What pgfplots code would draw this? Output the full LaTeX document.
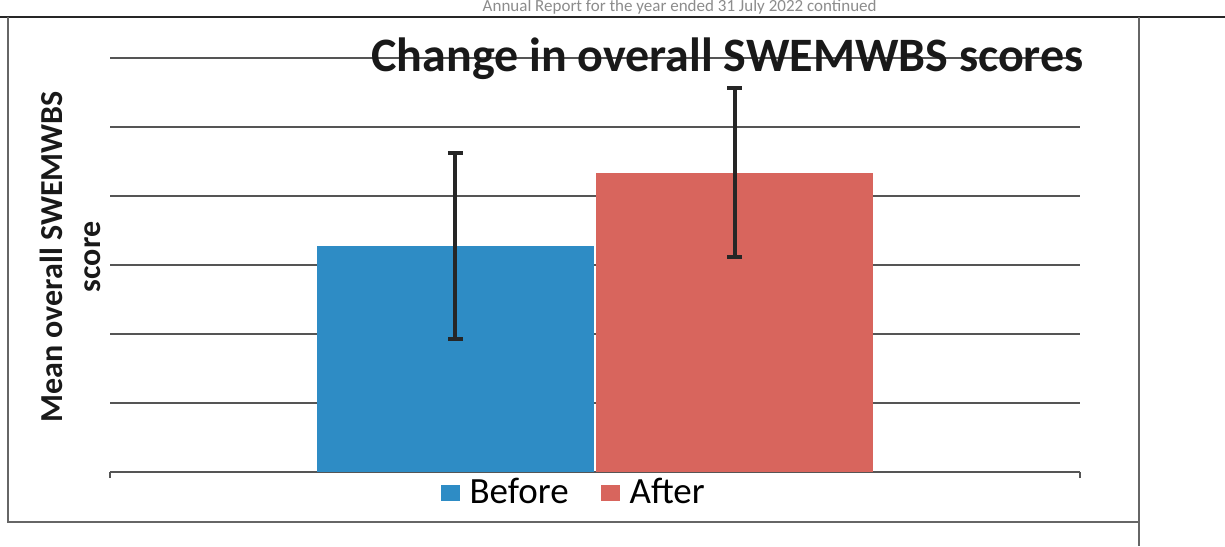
\documentclass[border=0pt]{standalone}
\usepackage{pgfplots}
\pgfplotsset{compat=1.18}
\usepackage{fontspec}
\setmainfont{Carlito}
\definecolor{barblue}{RGB}{46,140,197}
\definecolor{barred}{RGB}{216,101,93}
\definecolor{gridc}{RGB}{85,85,85}
\begin{document}
\begin{tikzpicture}
\useasboundingbox (0,0) rectangle (612.5pt,273pt);
\fill[white] (0,0) rectangle (612.5pt,273pt);
\node[anchor=base east, inner sep=0pt, text=black!45, font=\fontsize{8.5}{10}\selectfont] at (438.5pt,267.3pt) {Annual Report for the year ended 31 July 2022 continued};
\draw[line width=1.4pt, black!85] (0,264.5pt) -- (612.5pt,264.5pt);
\draw[line width=0.6pt, black!60] (4pt,264.5pt) -- (4pt,12pt) -- (569.5pt,12pt);
\draw[line width=0.6pt, black!60] (569.5pt,264.5pt) -- (569.5pt,0pt);
\begin{axis}[
  at={(55pt,37pt)}, anchor=south west,
  width=485pt, height=207pt, scale only axis,
  xmin=-1, xmax=1, ymin=0, ymax=30,
  axis x line=bottom, axis y line=left,
  x axis line style={-, gridc, line width=0.8pt},
  y axis line style={draw=none},
  ytick={0,5,...,30}, yticklabels={},
  ytick style={draw=none},
  ymajorgrids, grid style={gridc, line width=0.7pt},
  xtick={-1,1}, xticklabels={},
  xtick style={gridc, line width=0.8pt},
  tick align=outside, major tick length=3pt,
  clip=false,
  legend style={at={(0.479,-0.05)}, anchor=center, draw=none, fill=none,
    legend columns=2, font=\fontsize{18.5}{21}\selectfont,
    nodes={inner sep=2pt},
    /tikz/every odd column/.append style={column sep=3pt},
    /tikz/every even column/.append style={column sep=14pt}},
  legend image code/.code={\fill[#1] (0pt,-4pt) rectangle (9.5pt,4pt);},
]
\addplot[ybar, bar width=0.57, bar shift=0pt, fill=barblue, draw=none,
  error bars/.cd, y dir=both, y explicit, error mark=-,
  error bar style={draw=black!85, line width=2pt},
  error mark options={rotate=90, draw=black!85, line width=2pt, mark size=3.75pt}]
  coordinates {(-0.288,16.4) +- (0,6.75)};
\addlegendentry{Before}
\addplot[ybar, bar width=0.57, bar shift=0pt, fill=barred, draw=none,
  error bars/.cd, y dir=both, y explicit, error mark=-,
  error bar style={draw=black!85, line width=2pt},
  error mark options={rotate=90, draw=black!85, line width=2pt, mark size=3.75pt}]
  coordinates {(0.288,21.7) +- (0,6.15)};
\addlegendentry{After}
\end{axis}
\node[anchor=base, inner sep=0pt, font=\bfseries\fontsize{24}{28}\selectfont, text=black!90] at (363.75pt,237pt) {Change in overall SWEMWBS scores};
\node[rotate=90, align=center, inner sep=0pt, font=\bfseries\fontsize{16}{19}\selectfont, text=black!90] at (35pt,144.5pt) {Mean overall SWEMWBS\\score};
\end{tikzpicture}
\end{document}
